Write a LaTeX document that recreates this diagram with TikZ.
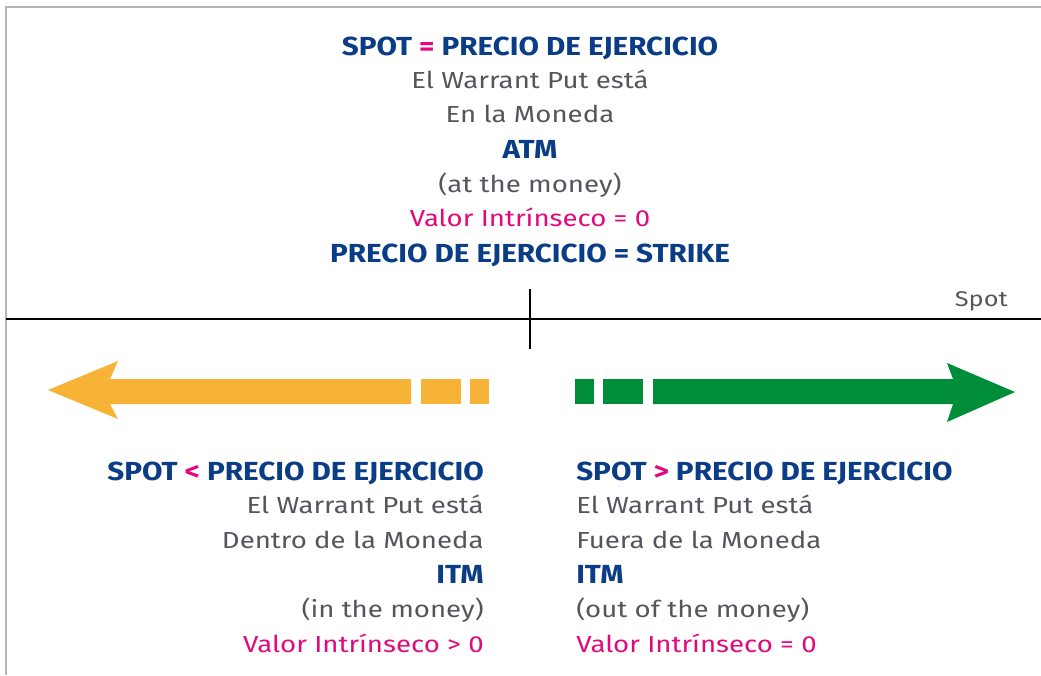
\documentclass[tikz,border=0pt]{standalone}
\usepackage{fontspec}
\setmainfont{Fira Sans}
\newfontfamily\warbody{Fira Sans}[FakeStretch=1.19]
\newfontfamily\warhead{Fira Sans}[FakeStretch=1.135]
\definecolor{warblue}{HTML}{0B3D87}
\definecolor{warpink}{HTML}{E2097C}
\definecolor{wargray}{HTML}{55555E}
\definecolor{waryellow}{HTML}{F6B335}
\definecolor{wargreen}{HTML}{008D39}
\definecolor{warframe}{HTML}{B4B4B4}
\tikzset{
	headline/.style={inner sep=0pt,text=warblue,font=\warhead\bfseries\fontsize{19.6}{22}\selectfont},
	bodyline/.style={inner sep=0pt,text=wargray,font=\warbody\fontsize{17.4}{20}\selectfont},
	pinkline/.style={bodyline,text=warpink}
}

\begin{document}
\begin{tikzpicture}[x=0.75pt,y=-0.75pt]
	\useasboundingbox(0,0)rectangle(1041,675);
	\draw[warframe,line width=0.8pt](6,675)--(6,7)--(1041,7);
	\draw[line width=1.5pt](6,319)coordinate(axl)--(1041,319)coordinate(axr);
	\draw[line width=1.5pt](530,289)--(530,349);
	\node[bodyline,font=\warbody\fontsize{16}{18}\selectfont,anchor=base east](spot)at(1008,306){Spot};
	% strike block
	\node[headline,anchor=base](t1)at(530,55){SPOT \textcolor{warpink}{=} PRECIO DE EJERCICIO};
	\node[bodyline,anchor=base](t2)at(530,88){El Warrant Put está};
	\node[bodyline,anchor=base](t3)at(530,122){En la Moneda};
	\node[headline,anchor=base](t4)at(530,158){ATM};
	\node[bodyline,anchor=base](t5)at(530,192){(at the money)};
	\node[pinkline,anchor=base](t6)at(530,226){Valor Intrínseco = 0};
	\node[headline,anchor=base](t7)at(530,262){PRECIO DE EJERCICIO = STRIKE};
	% arrows
	\fill[waryellow](48,390)--(118,361)--(110,379)--(411,379)--(411,404)--(110,404)--(118,419)--cycle;
	\fill[waryellow](421,379)rectangle(461,404);
	\fill[waryellow](470,379)rectangle(489,404);
	\fill[wargreen](575,379)rectangle(594,404);
	\fill[wargreen](603,379)rectangle(643,404);
	\fill[wargreen](653,379)--(953,379)--(947,363)--(1015,392)--(947,422)--(953,404)--(653,404)--cycle;
	% in the money
	\node[headline,anchor=base east](l1)at(484,480){SPOT \textcolor{warpink}{<} PRECIO DE EJERCICIO};
	\node[bodyline,anchor=base east](l2)at(484,513){El Warrant Put está};
	\node[bodyline,anchor=base east](l3)at(484,548){Dentro de la Moneda};
	\node[headline,anchor=base east](l4)at(484,583){ITM};
	\node[bodyline,anchor=base east](l5)at(484,617){(in the money)};
	\node[pinkline,anchor=base east](l6)at(484,652){Valor Intrínseco > 0};
	% out of the money
	\node[headline,anchor=base west](r1)at(576,480){SPOT \textcolor{warpink}{>} PRECIO DE EJERCICIO};
	\node[bodyline,anchor=base west](r2)at(576,513){El Warrant Put está};
	\node[bodyline,anchor=base west](r3)at(576,548){Fuera de la Moneda};
	\node[headline,anchor=base west](r4)at(576,583){ITM};
	\node[bodyline,anchor=base west](r5)at(576,617){(out of the money)};
	\node[pinkline,anchor=base west](r6)at(576,652){Valor Intrínseco = 0};
\end{tikzpicture}
\end{document}
